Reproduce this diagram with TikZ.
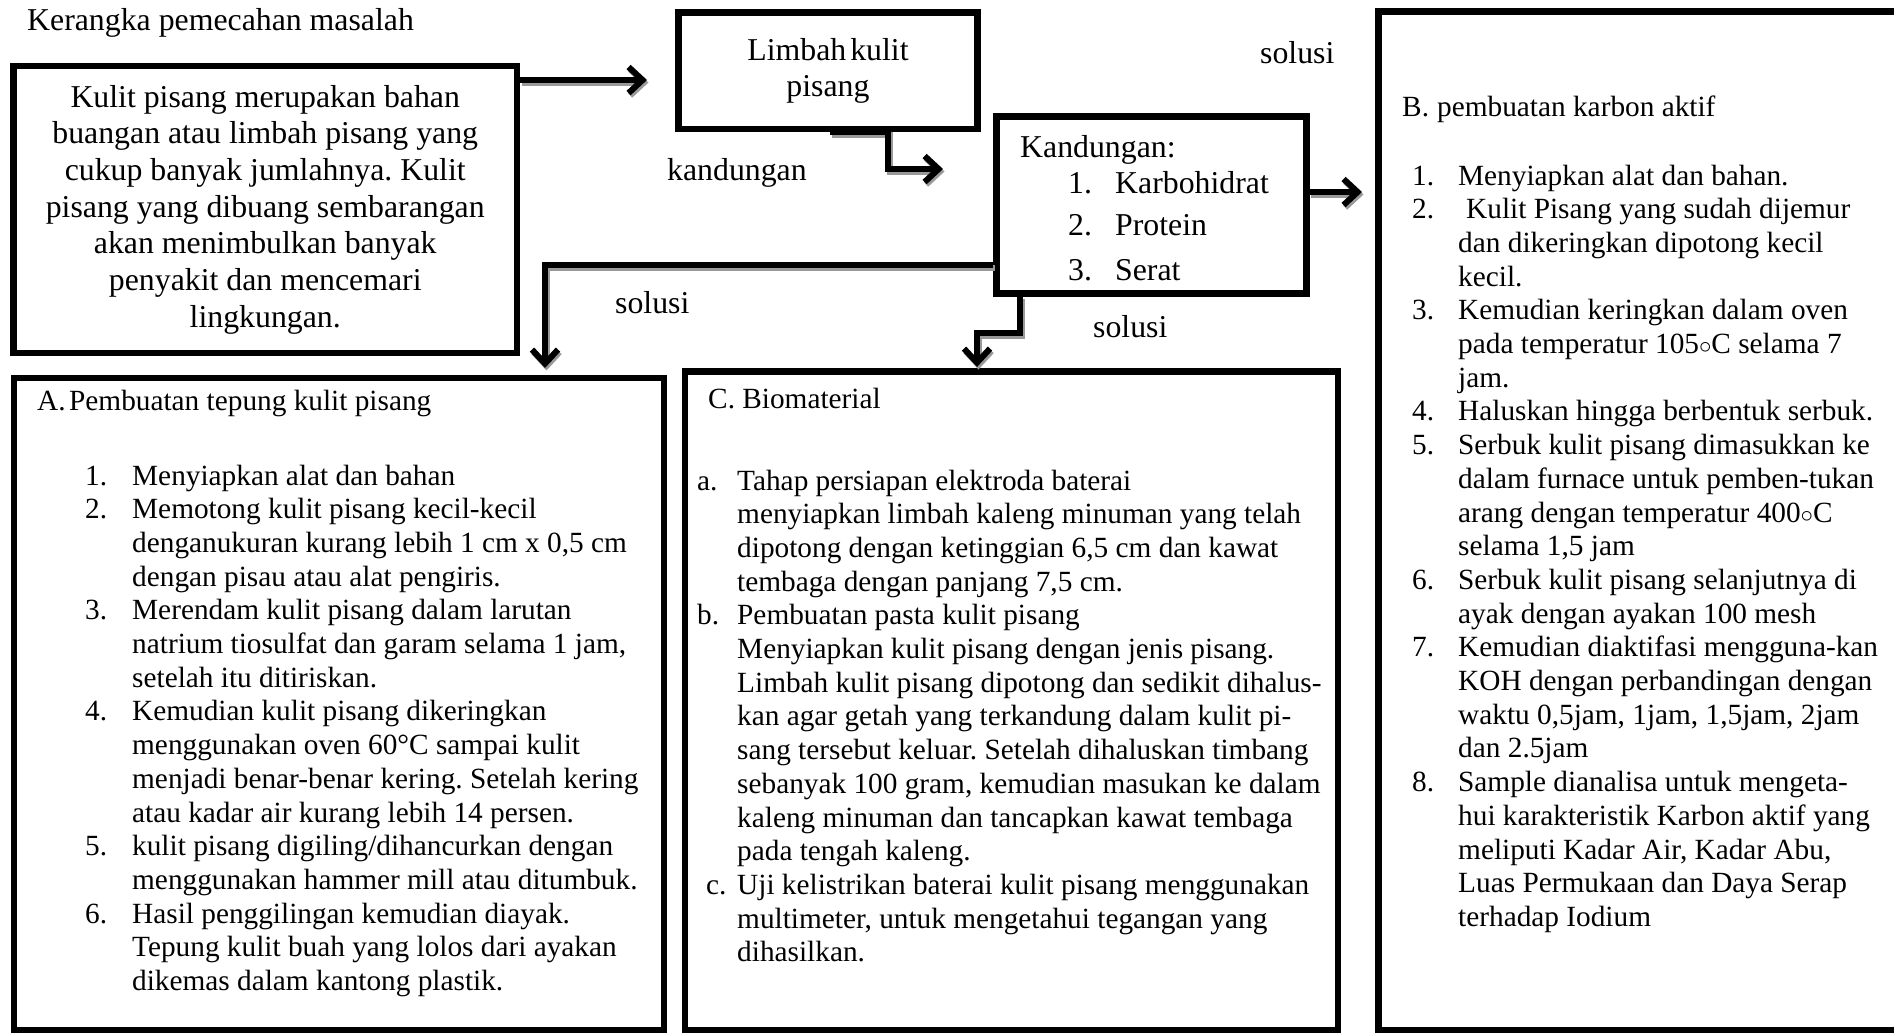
\documentclass[tikz,border=0pt]{standalone}
\usepackage{fontspec}
\setmainfont{Liberation Serif}
\usepackage{array}
\usetikzlibrary{arrows.meta}
\tikzset{
  box/.style={draw, line width=6.5pt, rectangle, inner sep=0pt},
  tipshape/.style={-{Straight Barb[length=14pt,width=26pt]}},
  conn/.style={line width=6pt, tipshape,
    preaction={draw=black!40, line width=6pt, tipshape,
      transform canvas={shift={(1.5pt,-2.5pt)}}}},
  big/.style={font=\fontsize{31.8}{36.7}\selectfont},
  body/.style={font=\fontsize{29.3}{33.7}\selectfont},
  lbl/.style={big, anchor=base west, inner sep=0pt},
  txt/.style={body, anchor=base west, inner sep=0pt},
}
\newcommand{\dg}{\ensuremath{\circ}}
\begin{document}
\frenchspacing
\begin{tikzpicture}[x=1pt,y=-1pt]
\useasboundingbox (0,0) rectangle (1894,1034);

% title and labels
\node[lbl] (title) at (27,30) {Kerangka pemecahan masalah};
\node[lbl] (lk) at (667,180) {kandungan};
\node[lbl] (s1) at (615,313) {solusi};
\node[lbl] (s2) at (1093,337) {solusi};
\node[lbl] (s3) at (1260,63) {solusi};

% problem box
\node[box, big, align=center, minimum width=503.5pt, minimum height=287pt] (prob) at (265.25,209.5)
  {Kulit pisang merupakan bahan\\buangan atau limbah pisang yang\\cukup banyak jumlahnya. Kulit\\pisang yang dibuang sembarangan\\akan menimbulkan banyak\\penyakit dan mencemari\\lingkungan.};

% limbah box
\node[box, big, align=center, minimum width=299pt, minimum height=116.5pt] (limbah) at (828,70.75)
  {Limbah\hspace{4pt}kulit\\pisang};

% kandungan box
\node[box, minimum width=310pt, minimum height=177pt] (kand) at (1151.5,205) {};
\node[lbl] (kandtxt) at (1020,157)
  {\begin{tabular}[t]{@{}p{48pt}@{}p{47pt}@{}l@{}}
   \multicolumn{3}{@{}l@{}}{Kandungan:}\\
   & 1. & Karbohidrat\\[5pt]
   & 2. & Protein\\[8pt]
   & 3. & Serat
   \end{tabular}};

% box A
\node[box, minimum width=650pt, minimum height=652pt] (boxA) at (339,704) {};
\node[txt] (Atitle) at (37,410) {\makebox[32pt][l]{A.}Pembuatan tepung kulit pisang};
\node[txt] (Alist) at (85,485)
  {\begin{tabular}[t]{@{}p{47pt}@{}l@{}}
   1. & Menyiapkan alat dan bahan\\
   2. & Memotong kulit pisang kecil-kecil\\
      & denganukuran kurang lebih 1 cm x 0,5 cm\\
      & dengan pisau atau alat pengiris.\\
   3. & Merendam kulit pisang dalam larutan\\
      & natrium tiosulfat dan garam selama 1 jam,\\
      & setelah itu ditiriskan.\\
   4. & Kemudian kulit pisang dikeringkan\\
      & menggunakan oven 60°C sampai kulit\\
      & menjadi benar-benar kering. Setelah kering\\
      & atau kadar air kurang lebih 14 persen.\\
   5. & kulit pisang digiling/dihancurkan dengan\\
      & menggunakan hammer mill atau ditumbuk.\\
   6. & Hasil penggilingan kemudian diayak.\\
      & Tepung kulit buah yang lolos dari ayakan\\
      & dikemas dalam kantong plastik.
   \end{tabular}};

% box C
\node[box, minimum width=653pt, minimum height=658.5pt] (boxC) at (1011.5,700.75) {};
\node[txt] (Ctitle) at (708,408) {C. Biomaterial};
\node[txt] (Clist) at (697,490)
  {\begin{tabular}[t]{@{}p{40pt}@{}l@{}}
   a. & Tahap persiapan elektroda baterai\\
      & menyiapkan limbah kaleng minuman yang telah\\
      & dipotong dengan ketinggian 6,5 cm dan kawat\\
      & tembaga dengan panjang 7,5 cm.\\
   b. & Pembuatan pasta kulit pisang\\
      & Menyiapkan kulit pisang dengan jenis pisang.\\
      & Limbah kulit pisang dipotong dan sedikit dihalus-\\
      & kan agar getah yang terkandung dalam kulit pi-\\
      & sang tersebut keluar. Setelah dihaluskan timbang\\
      & sebanyak 100 gram, kemudian masukan ke dalam\\
      & kaleng minuman dan tancapkan kawat tembaga\\
      & pada tengah kaleng.\\
   \hspace*{9pt}c. & Uji kelistrikan baterai kulit pisang menggunakan\\
      & multimeter, untuk mengetahui tegangan yang\\
      & dihasilkan.
   \end{tabular}};

% box B
\node[box, minimum width=541.5pt, minimum height=1018.5pt] (boxB) at (1649.25,520.75) {};
\node[txt] (Btitle) at (1402,116) {\makebox[35pt][l]{B.}pembuatan karbon aktif};
\node[txt] (Blist) at (1412,185)
  {\begin{tabular}[t]{@{}p{46pt}@{}l@{}}
   1. & Menyiapkan alat dan bahan.\\
   2. & \hspace*{8pt}Kulit Pisang yang sudah dijemur\\
      & dan dikeringkan dipotong kecil\\
      & kecil.\\
   3. & Kemudian keringkan dalam oven\\
      & pada temperatur 105\dg C selama 7\\
      & jam.\\
   4. & Haluskan hingga berbentuk serbuk.\\
   5. & Serbuk kulit pisang dimasukkan ke\\
      & dalam furnace untuk pemben-tukan\\
      & arang dengan temperatur 400\dg C\\
      & selama 1,5 jam\\
   6. & Serbuk kulit pisang selanjutnya di\\
      & ayak dengan ayakan 100 mesh\\
   7. & Kemudian diaktifasi mengguna-kan\\
      & KOH dengan perbandingan dengan\\
      & waktu 0,5jam, 1jam, 1,5jam, 2jam\\
      & dan 2.5jam\\
   8. & Sample dianalisa untuk mengeta-\\
      & hui karakteristik Karbon aktif yang\\
      & meliputi Kadar Air, Kadar Abu,\\
      & Luas Permukaan dan Daya Serap\\
      & terhadap Iodium
   \end{tabular}};

% connectors
\coordinate (t1) at (647,80);
\draw[conn] (prob.east |- t1) -- (t1);
\coordinate (b2) at (888,169);
\coordinate (t2) at (943,169);
\draw[conn] (limbah.south -| 830,0) -| (b2) -- (t2);
\coordinate (t3) at (1362,192);
\draw[conn] (kand.east |- t3) -- (t3);
\coordinate (tA) at (545,368);
\draw[conn] (kand.west |- 0,265) -| (tA);
\coordinate (bC) at (977,333);
\coordinate (tC) at (977,367);
\draw[conn] (kand.south -| 1020,0) |- (bC) -- (tC);
\end{tikzpicture}
\end{document}
